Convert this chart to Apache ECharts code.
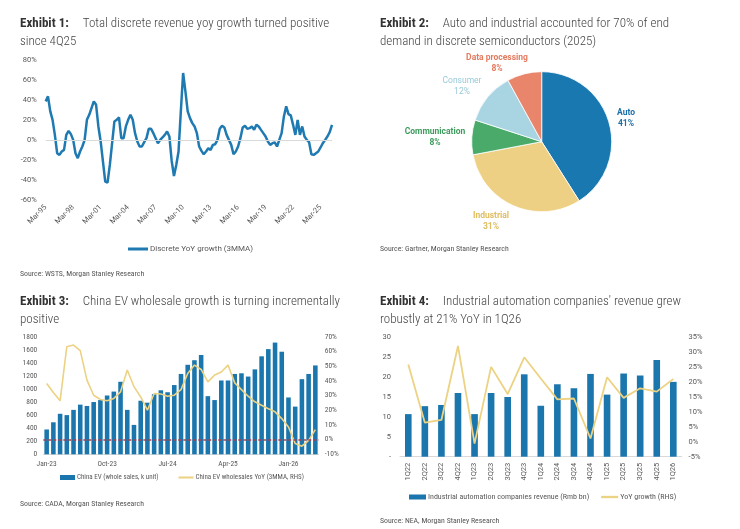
<!DOCTYPE html>
<html>
<head>
<meta charset="utf-8">
<script src="https://cdn.jsdelivr.net/npm/echarts@6/dist/echarts.min.js"></script>
<style>
html, body { margin: 0; padding: 0; background: #fff; }
#main { width: 740px; height: 529px; }
</style>
</head>
<body>
<div id="main"></div>
<script>
var discreteYoy = [
    38.7, 43.7, 28.7, 20.3, 5.3, -13, -14.7, -11.3, -9.7, 5.3,
    9.3, 6, 0.3, -13, -18, -11.3, -6.3, 0.3, 20.3, 25.3,
    32, 38.7, 35.3, 13.7, -1.3, -21.3, -41.3, -42.3, -24.7, -3,
    18.7, 20.3, 22.7, 2, 2, 13.7, 20.3, 25.3, 20.3, 7,
    -1.3, -6.3, -6.3, -2, 2, 11.3, 11.3, 7, 2, -3,
    0.3, 2.7, 5.3, 8.7, 3.7, -20.7, -35.7, -24.7, -11.3, 28.7,
    67, 48.7, 28.7, 22, 17, 13.7, 7, -6.3, -10.7, -14,
    -11.3, -8, -9.7, -4.7, -4, 0.3, 11.3, 14.3, 12.7, 5.3,
    0.3, -4.7, -14, -11.3, -6.3, 2, 12.7, 14.3, 11.3, 12,
    13.7, 10.3, 15.3, 13.7, 10.3, 7, 3.7, -1.3, -4.7, -3,
    -2.3, -6.3, 0.3, 7, 23.7, 33.7, 26, 24.7, 15.3, 5.3,
    20.3, 5.3, 13.7, 3.7, 0.3, -2, -14, -14.7, -13, -11.3,
    -7.3, -3, 0.3, 3.7, 8, 15.3
];
var discreteQuarters = [];
var qMonths = ['Mar', 'Jun', 'Sep', 'Dec'];
for (var y = 1995; y <= 2026; y++) {
    for (var m = 0; m < 4; m++) {
        discreteQuarters.push(qMonths[m] + '-' + String(y).slice(2));
    }
}
discreteQuarters = discreteQuarters.slice(0, discreteYoy.length);

// Exhibit 2: end demand split (2025)
var pieNames = ['Auto', 'Industrial', 'Communication', 'Consumer', 'Data processing'];
var pieShares = [41, 31, 8, 12, 8];

// Exhibit 3: China EV wholesale, Jan-23 .. May-26
var evSales = [
    380, 490, 620, 600, 680, 760, 740, 800, 830, 900,
    960, 1110, 680, 450, 820, 790, 920, 980, 950, 1060,
    1230, 1370, 1440, 1520, 890, 830, 1130, 1130, 1230, 1240,
    1190, 1300, 1500, 1610, 1710, 1570, 870, 730, 1150, 1230,
    1360
];
var evYoy = [
    38.2, 32, 26.4, 63.2, 64.3, 60.5, 40.5, 30.2, 27.3, 26.4,
    28, 32.5, 47.3, 36, 29, 20, 31.4, 31, 29.5, 30.2,
    34, 45, 50.7, 47.7, 39.3, 43.9, 46, 50.7, 38.6, 34,
    29.5, 25.7, 23.4, 21, 18.9, 14.3, 8.6, -2.7, -4.5, -0.5,
    6.8
];
var evMonths = [];
var monNames = ['Jan', 'Feb', 'Mar', 'Apr', 'May', 'Jun', 'Jul', 'Aug', 'Sep', 'Oct', 'Nov', 'Dec'];
for (var yy = 23; yy <= 26; yy++) {
    for (var mm = 0; mm < 12; mm++) {
        evMonths.push(monNames[mm] + '-' + yy);
    }
}
evMonths = evMonths.slice(0, evSales.length);

// Exhibit 4: industrial automation revenue and YoY
var autoQuarters = ['1Q22', '2Q22', '3Q22', '4Q22', '1Q23', '2Q23', '3Q23', '4Q23', '1Q24',
    '2Q24', '3Q24', '4Q24', '1Q25', '2Q25', '3Q25', '4Q25', '1Q26'];
var autoRevenue = [10.7, 12.7, 13.0, 16.0, 10.7, 16.0, 15.0, 20.7, 12.8, 18.2, 17.2, 20.8,
    15.6, 20.9, 20.4, 24.3, 18.8];
var autoYoy = [25.9, 6.4, 7.3, 32.1, -0.6, 25.1, 16, 28.3, 21.2, 14.2, 14.5, 1.1,
    21.6, 14.7, 17.9, 16.8, 21];

var BLUE = '#1a76ad';
var GOLD = '#ecd283';
var AXIS_TXT = '#595959';
var TITLE_FONT = "'Roboto Condensed','Liberation Sans Narrow','Arial Narrow',Roboto,sans-serif";
var AXIS_FONT = "Roboto,'Liberation Sans',sans-serif";
var LINE_ICON = 'path://M0,0H16V2.2H0Z';

// pie label centres (px), same order as pieNames
var pieLabelPos = [[626, 118], [491, 221], [435, 137], [462, 86], [497, 63]];
var pieColors = ['#1a78b0', '#edd083', '#4aaa6a', '#a9d5e3', '#e9856b'];
var pieLabelColors = ['#1b6fa8', '#dfbd60', '#3e9a5d', '#98c9d8', '#e47a5e'];

function heading(left, top, label, line1, line2) {
    return {
        left: left,
        top: top,
        text: '{b|' + label + '}{g|}{n|' + line1 + '}\n{n|' + line2 + '}',
        textStyle: {
            rich: {
                b: { fontFamily: TITLE_FONT, fontSize: 13, fontWeight: 'bold', color: '#333', lineHeight: 18 },
                g: { width: 14, lineHeight: 18 },
                n: { fontFamily: TITLE_FONT, fontSize: 13, fontWeight: 300, color: '#444', lineHeight: 18 }
            }
        }
    };
}
function source(left, top, txt) {
    return {
        left: left,
        top: top,
        text: txt,
        textStyle: { fontFamily: TITLE_FONT, fontSize: 7.8, fontWeight: 'normal', color: '#555' }
    };
}

var chart = echarts.init(document.getElementById('main'));
var option = {
    animation: false,
    title: [
        heading(15, 10, 'Exhibit 1:', 'Total discrete revenue yoy growth turned positive', 'since 4Q25'),
        heading(375, 10, 'Exhibit 2:', 'Auto and industrial accounted for 70% of end', 'demand in discrete semiconductors (2025)'),
        heading(15, 288, 'Exhibit 3:', 'China EV wholesale growth is turning incrementally', 'positive'),
        heading(375, 288, 'Exhibit 4:', "Industrial automation companies' revenue grew", 'robustly at 21% YoY in 1Q26'),
        source(15, 265, 'Source: WSTS, Morgan Stanley Research'),
        source(375, 240, 'Source: Gartner, Morgan Stanley Research'),
        source(15, 495, 'Source: CADA, Morgan Stanley Research'),
        source(375, 512, 'Source: NEA, Morgan Stanley Research')
    ],
    legend: [
        {
            left: 123, top: 240,
            data: ['Discrete YoY growth (3MMA)'],
            icon: 'rect', itemWidth: 20, itemHeight: 3, itemGap: 2,
            textStyle: { fontFamily: AXIS_FONT, fontSize: 8, color: AXIS_TXT, padding: [0, 0, 0, -3] }
        },
        {
            left: 55, top: 469,
            data: [
                { name: 'China EV (whole sales, k unit)', icon: 'rect' },
                { name: 'China EV wholesales YoY (3MMA, RHS)', icon: LINE_ICON }
            ],
            itemWidth: 15, itemHeight: 5, itemGap: 20, symbolKeepAspect: true,
            textStyle: { fontFamily: TITLE_FONT, fontSize: 7, color: AXIS_TXT, padding: [0, 0, 0, -3] }
        },
        {
            left: 404, top: 488,
            data: [
                { name: 'Industrial automation companies revenue (Rmb bn)', icon: 'rect' },
                { name: 'YoY growth (RHS)', icon: LINE_ICON }
            ],
            itemWidth: 17, itemHeight: 5, itemGap: 12, symbolKeepAspect: true,
            textStyle: { fontFamily: TITLE_FONT, fontSize: 8, color: AXIS_TXT, padding: [0, 0, 0, -3] }
        }
    ],
    grid: [
        { left: 45.7, top: 60, width: 286.3, height: 140.3 },
        { left: 43.3, top: 336.7, width: 275.4, height: 117.6 },
        { left: 400, top: 337.3, width: 281.6, height: 119.4 }
    ],
    xAxis: [
        {
            gridIndex: 0, type: 'category', data: discreteQuarters, boundaryGap: false,
            axisLine: { show: false }, axisTick: { show: false },
            axisLabel: { interval: 11, rotate: 45, margin: 6, fontFamily: AXIS_FONT, fontSize: 7.5, color: AXIS_TXT }
        },
        {
            gridIndex: 1, type: 'category', data: evMonths,
            axisLine: { show: true, lineStyle: { color: '#d9d9d9' } }, axisTick: { show: false },
            axisLabel: { interval: 8, margin: 6, fontFamily: TITLE_FONT, fontSize: 7.5, color: AXIS_TXT }
        },
        {
            gridIndex: 2, type: 'category', data: autoQuarters,
            axisLine: { show: true, lineStyle: { color: '#d9d9d9' } }, axisTick: { show: false },
            axisLabel: { interval: 0, rotate: 90, margin: 6, fontFamily: AXIS_FONT, fontSize: 7.5, color: AXIS_TXT }
        }
    ],
    yAxis: [
        {
            gridIndex: 0, type: 'value', min: -60, max: 80, interval: 20,
            splitLine: { show: false }, axisLine: { show: false },
            axisLabel: { formatter: '{value}%', margin: 9, fontFamily: AXIS_FONT, fontSize: 7.5, color: AXIS_TXT }
        },
        {
            gridIndex: 1, type: 'value', min: 0, max: 1800, interval: 200,
            splitLine: { show: false }, axisLine: { show: false },
            axisLabel: {
                margin: 6, fontFamily: TITLE_FONT, fontSize: 7.5, color: AXIS_TXT,
                formatter: function (v) { return String(v); }
            }
        },
        {
            gridIndex: 1, type: 'value', position: 'right', min: -10, max: 70, interval: 10,
            splitLine: { show: false }, axisLine: { show: false },
            axisLabel: { formatter: '{value}%', margin: 6, fontFamily: TITLE_FONT, fontSize: 7.5, color: AXIS_TXT }
        },
        {
            gridIndex: 2, type: 'value', min: 0, max: 30, interval: 5,
            splitLine: { show: false }, axisLine: { show: false },
            axisLabel: {
                margin: 9, fontFamily: AXIS_FONT, fontSize: 7.5, color: AXIS_TXT,
                formatter: function (v) { return v === 0 ? '-' : String(v); }
            }
        },
        {
            gridIndex: 2, type: 'value', position: 'right', min: -5, max: 35, interval: 5,
            splitLine: { show: false }, axisLine: { show: false },
            axisLabel: { formatter: '{value}%', margin: 7, fontFamily: AXIS_FONT, fontSize: 7.5, color: AXIS_TXT }
        }
    ],
    series: [
        {
            name: 'Discrete YoY growth (3MMA)',
            type: 'line', xAxisIndex: 0, yAxisIndex: 0,
            data: discreteYoy,
            symbol: 'none',
            lineStyle: { color: '#1f7ab2', width: 2.5 },
            itemStyle: { color: '#1f7ab2' },
            markLine: {
                silent: true, symbol: 'none', label: { show: false },
                lineStyle: { color: '#dadada', type: 'solid', width: 1 },
                data: [{ yAxis: 0 }]
            },
            z: 3
        },
        {
            type: 'pie',
            center: [541.7, 141.7],
            radius: 70,
            startAngle: 90,
            clockwise: true,
            itemStyle: { borderColor: '#fff', borderWidth: 0.8 },
            label: {
                show: true, position: 'outside',
                formatter: '{b}\n{c}%',
                fontFamily: AXIS_FONT, fontSize: 8.5, fontWeight: 'bold', lineHeight: 11, align: 'center'
            },
            labelLine: { show: false },
            labelLayout: function (params) {
                var p = pieLabelPos[params.dataIndex];
                return { x: p[0], y: p[1], align: 'center', verticalAlign: 'middle' };
            },
            data: pieNames.map(function (n, i) {
                return {
                    name: n, value: pieShares[i],
                    itemStyle: { color: pieColors[i] },
                    label: { color: pieLabelColors[i], fontWeight: n === 'Consumer' ? 'normal' : 'bold' }
                };
            })
        },
        {
            name: 'China EV (whole sales, k unit)',
            type: 'bar', xAxisIndex: 1, yAxisIndex: 1,
            data: evSales, barWidth: '68%',
            itemStyle: { color: BLUE }
        },
        {
            name: 'China EV wholesales YoY (3MMA, RHS)',
            type: 'line', xAxisIndex: 1, yAxisIndex: 2,
            data: evYoy, symbol: 'none',
            lineStyle: { color: GOLD, width: 1.6 },
            itemStyle: { color: GOLD },
            markLine: {
                silent: true, symbol: 'none', label: { show: false },
                lineStyle: { color: '#a8404f', type: [3, 2], width: 1.6 },
                data: [{ yAxis: 0 }]
            },
            z: 4
        },
        {
            name: 'Industrial automation companies revenue (Rmb bn)',
            type: 'bar', xAxisIndex: 2, yAxisIndex: 3,
            data: autoRevenue, barWidth: '40%',
            itemStyle: { color: BLUE }
        },
        {
            name: 'YoY growth (RHS)',
            type: 'line', xAxisIndex: 2, yAxisIndex: 4,
            data: autoYoy, symbol: 'none',
            lineStyle: { color: GOLD, width: 1.8 },
            itemStyle: { color: GOLD },
            z: 4
        }
    ]
};
chart.setOption(option);
</script>
</body>
</html>
